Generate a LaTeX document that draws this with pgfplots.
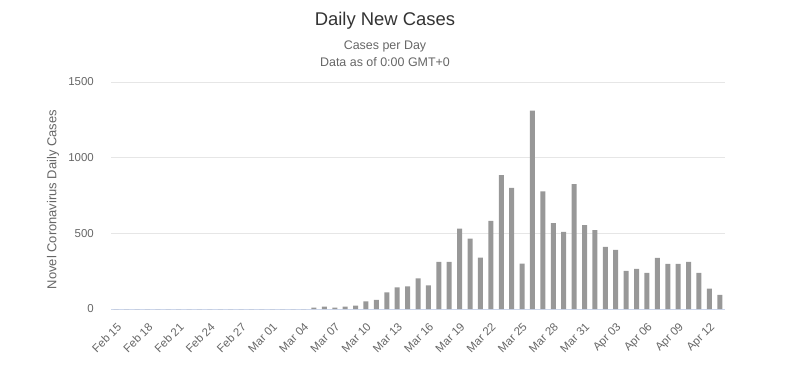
\documentclass[border=0pt]{standalone}
\usepackage{fontspec}
\setmainfont{Liberation Sans}
\usepackage{pgfplots}
\pgfplotsset{compat=1.18}
\definecolor{titlec}{HTML}{333333}
\definecolor{labelc}{HTML}{666666}
\definecolor{gridc}{HTML}{E6E6E6}
\definecolor{axisc}{HTML}{CCD6EB}
\definecolor{barc}{HTML}{989898}
\begin{document}
\begin{tikzpicture}[x=1bp,y=1bp]
\path[use as bounding box] (0,0) rectangle (796,369);
\node[font=\fontsize{18.5}{21}\selectfont, text=titlec] at (385,348) {Daily New Cases};
\node[font=\fontsize{12.5}{15}\selectfont, text=labelc] at (385,323) {Cases per Day};
\node[font=\fontsize{12.5}{15}\selectfont, text=labelc] at (385,307) {Data as of 0:00 GMT+0};
\begin{axis}[
  at={(111bp,60bp)}, anchor=south west,
  scale only axis, width=614bp, height=227bp,
  xmin=-0.5, xmax=58.5, ymin=0, ymax=1500,
  ybar, bar width=5bp,
  axis x line*=bottom, axis y line*=left,
  x axis line style={color=axisc, line width=0.8bp},
  y axis line style={draw=none},
  major tick length=0pt,
  ytick={0,500,1000,1500},
  ymajorgrids, grid style={color=gridc, line width=0.8bp},
  xtick={0,3,...,57},
  xticklabels={Feb 15,Feb 18,Feb 21,Feb 24,Feb 27,Mar 01,Mar 04,Mar 07,Mar 10,Mar 13,Mar 16,Mar 19,Mar 22,Mar 25,Mar 28,Mar 31,Apr 03,Apr 06,Apr 09,Apr 12},
  /pgf/number format/assume math mode=true,
  /pgf/number format/1000 sep={},
  yticklabel style={font=\fontsize{11.5}{13}\selectfont, text=labelc, inner sep=0pt, anchor=east, xshift=-17bp},
  xticklabel style={font=\fontsize{11.5}{13}\selectfont, text=labelc, inner sep=0pt, yshift=-13bp, rotate=45, anchor=north east},
  ylabel={Novel Coronavirus Daily Cases},
  ylabel style={font=\fontsize{13}{15}\selectfont, text=labelc, at={(axis description cs:-0.0945,0.482)}, anchor=center},
  clip=false,
]
\addplot[fill=barc, draw=none] coordinates {
(0,0) (1,0) (2,0) (3,0) (4,0) (5,0) (6,0) (7,0) (8,0) (9,0)
(10,0) (11,0) (12,0) (13,0) (14,0) (15,0) (16,0) (17,0) (18,0)
(19,9) (20,15) (21,9) (22,15) (23,22) (24,50) (25,61) (26,110) (27,143) (28,149)
(29,202) (30,156) (31,311) (32,311) (33,531) (34,465) (35,340) (36,583) (37,884) (38,800)
(39,300) (40,1311) (41,778) (42,568) (43,509) (44,825) (45,555) (46,522) (47,410) (48,390)
(49,252) (50,265) (51,239) (52,338) (53,298) (54,298) (55,311) (56,239) (57,134) (58,94)
};
\end{axis}
\end{tikzpicture}
\end{document}
